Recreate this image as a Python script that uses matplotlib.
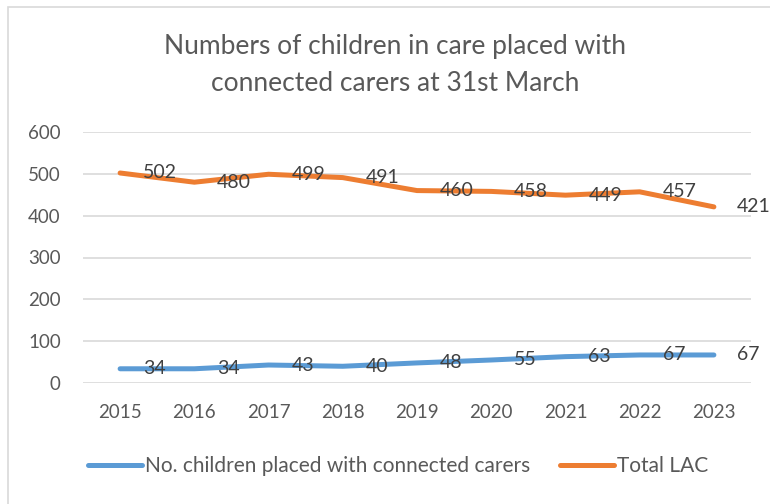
import matplotlib.pyplot as plt
from matplotlib.patches import Rectangle

plt.rcParams['font.family'] = ['Lato', 'DejaVu Sans']

years = ["2015", "2016", "2017", "2018", "2019", "2020", "2021", "2022", "2023"]
connected = [34, 34, 43, 40, 48, 55, 63, 67, 67]
total_lac = [502, 480, 499, 491, 460, 458, 449, 457, 421]

blue = "#5B9BD5"
orange = "#ED7D31"
txt = "#404040"
grey = "#595959"

fig = plt.figure(figsize=(7.7, 5.04), dpi=100)
ax = fig.add_axes([83 / 770, 1 - 383 / 504, (751 - 83) / 770, (383 - 132) / 504])

x = list(range(len(years)))
ax.plot(x, connected, color=blue, lw=3.6, solid_capstyle="round",
        label="No. children placed with connected carers")
ax.plot(x, total_lac, color=orange, lw=3.6, solid_capstyle="round",
        label="Total LAC")

# data labels to the right of each point
for xi, v in zip(x, connected):
    ax.annotate(str(v), (xi, v), xytext=(16.5, 0), textcoords="offset points",
                ha="left", va="center", fontsize=14, color=txt,
                annotation_clip=False)
for xi, v in zip(x, total_lac):
    ax.annotate(str(v), (xi, v), xytext=(16.5, 0), textcoords="offset points",
                ha="left", va="center", fontsize=14, color=txt,
                annotation_clip=False)

ax.set_xlim(-0.5, len(years) - 0.5)
ax.set_ylim(0, 600)
ax.set_yticks(range(0, 601, 100))
ax.set_xticks(x)
ax.set_xticklabels(years)
ax.grid(axis="y", color="#D9D9D9", lw=1.2)
ax.set_axisbelow(True)
for s in ax.spines.values():
    s.set_visible(False)
ax.tick_params(length=0, labelsize=13.5, labelcolor=grey)
ax.tick_params(axis="x", pad=15)
ax.tick_params(axis="y", pad=16)

fig.text(0.513, 1 - 65 / 504, "Numbers of children in care placed with\nconnected carers at 31st March",
         ha="center", va="center", fontsize=19, color=grey, linespacing=1.6)

fig.legend(loc="center", bbox_to_anchor=(0.517, 1 - 466 / 504), ncol=2, frameon=False,
           fontsize=15, handlelength=2.6, handletextpad=0.15, columnspacing=1.4,
           labelcolor=grey)

fig.patches.append(Rectangle((8 / 770, -0.1), 1.2, 1 - 7 / 504 + 0.1, transform=fig.transFigure,
                             fill=False, edgecolor="#D9D9D9", lw=1.2))

fig.savefig("out.png", dpi=100)
